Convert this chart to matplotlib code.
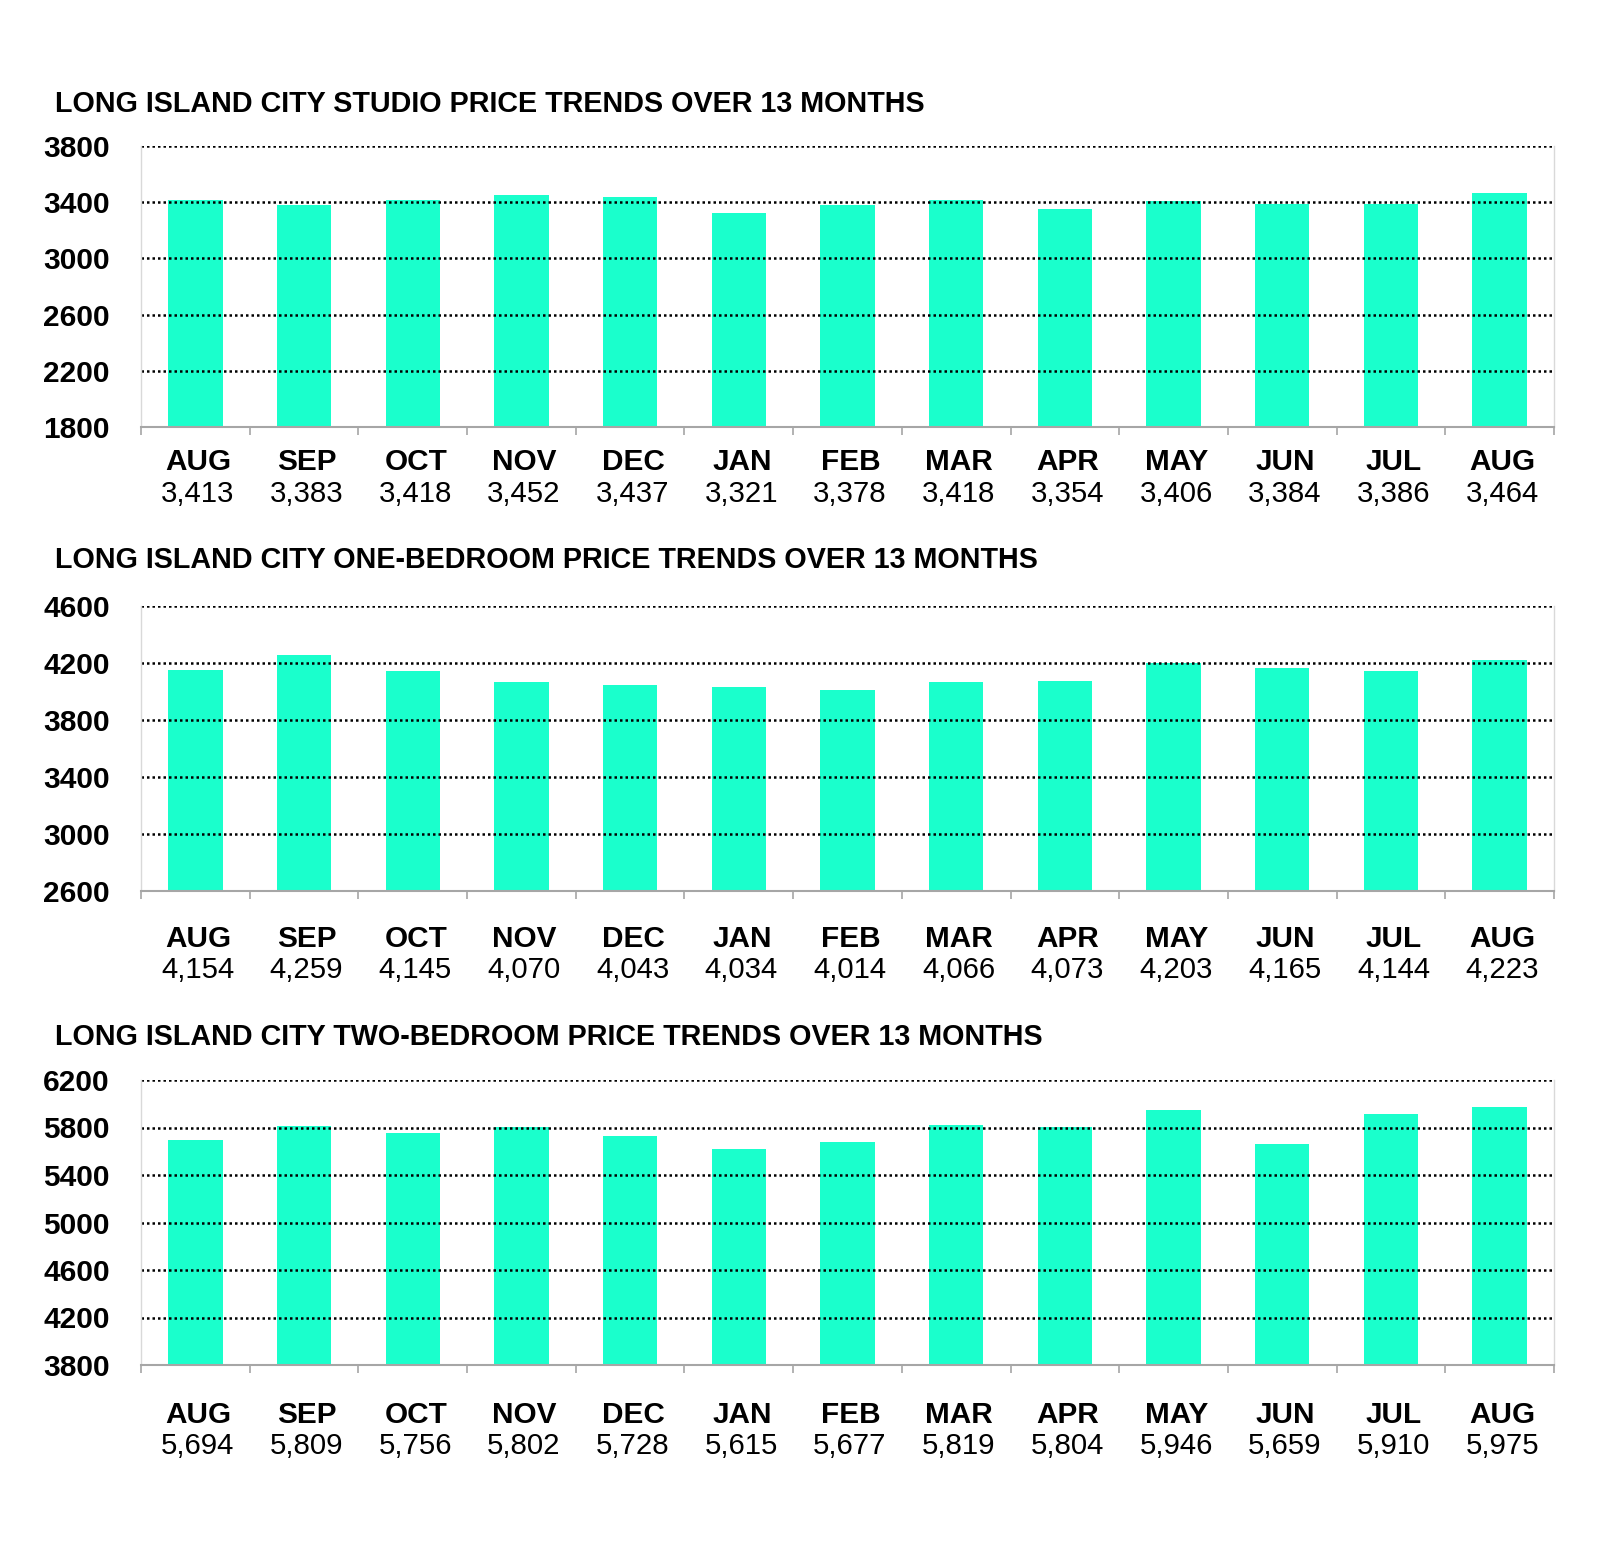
import matplotlib
matplotlib.use("Agg")
import matplotlib.pyplot as plt

plt.rcParams['font.family'] = ['Liberation Sans', 'DejaVu Sans']

months = ["AUG", "SEP", "OCT", "NOV", "DEC", "JAN", "FEB", "MAR", "APR", "MAY", "JUN", "JUL", "AUG"]

studio = [3413, 3383, 3418, 3452, 3437, 3321, 3378, 3418, 3354, 3406, 3384, 3386, 3464]
one_bed = [4154, 4259, 4145, 4070, 4043, 4034, 4014, 4066, 4073, 4203, 4165, 4144, 4223]
two_bed = [5694, 5809, 5756, 5802, 5728, 5615, 5677, 5819, 5804, 5946, 5659, 5910, 5975]

titles = [
    "LONG ISLAND CITY STUDIO PRICE TRENDS OVER 13 MONTHS",
    "LONG ISLAND CITY ONE-BEDROOM PRICE TRENDS OVER 13 MONTHS",
    "LONG ISLAND CITY TWO-BEDROOM PRICE TRENDS OVER 13 MONTHS",
]
yticks_list = [
    [1800, 2200, 2600, 3000, 3400, 3800],
    [2600, 3000, 3400, 3800, 4200, 4600],
    [3800, 4200, 4600, 5000, 5400, 5800, 6200],
]
series = [studio, one_bed, two_bed]

W, H = 1600, 1551
fig = plt.figure(figsize=(W / 100, H / 100), dpi=100)

# (top_px, bottom_px, title_px, month_off_px, value_off_px)
layout = [
    (146, 427, 104, 35, 67),
    (606, 891, 560, 48, 79),
    (1080, 1365, 1037, 50, 81),
]
left_px, right_px = 141, 1554
bar_color = "#1affcc"

for k in range(3):
    top_px, bot_px, title_px, moff, voff = layout[k]
    ax = fig.add_axes([left_px / W, 1 - bot_px / H, (right_px - left_px) / W, (bot_px - top_px) / H])
    vals = series[k]
    yt = yticks_list[k]
    x = list(range(len(vals)))
    ax.bar(x, vals, width=0.5, color=bar_color, zorder=1)
    ax.set_xlim(-0.5, len(vals) - 0.5)
    ax.set_ylim(yt[0], yt[-1])
    ax.set_yticks(yt)
    ax.set_yticklabels([str(v) for v in yt], fontsize=21.5, fontweight='bold')
    ax.tick_params(axis='y', length=0, pad=22.5)
    for v in yt[1:]:
        ax.axhline(v, color='black', linestyle=(0, (1, 1.2)), linewidth=1.8, zorder=2)
    # category boundary ticks
    ax.set_xticks([i - 0.5 for i in range(len(vals) + 1)])
    ax.set_xticklabels([])
    ax.tick_params(axis='x', length=6, width=1.2, color='#a6a6a6', direction='out')
    ax.spines['top'].set_visible(False)
    ax.spines['left'].set_color('#d9d9d9')
    ax.spines['right'].set_color('#d9d9d9')
    ax.spines['left'].set_linewidth(1.0)
    ax.spines['right'].set_linewidth(1.0)
    ax.spines['bottom'].set_color('#a6a6a6')
    ax.spines['bottom'].set_linewidth(1.5)
    ax.set_axisbelow(False)
    for i, (m, v) in enumerate(zip(months, vals)):
        ax.annotate(m, xy=(i, 0), xycoords=('data', 'axes fraction'),
                    xytext=(2.2, -moff * 0.72), textcoords='offset points',
                    ha='center', va='center', fontsize=21.4, fontweight='bold')
        ax.annotate(f"{v:,}", xy=(i, 0), xycoords=('data', 'axes fraction'),
                    xytext=(1.8, -voff * 0.72), textcoords='offset points',
                    ha='center', va='center', fontsize=21.2)
    fig.text(55 / W, 1 - title_px / H, titles[k], ha='left', va='center',
             fontsize=20.7, fontweight='bold')

fig.savefig("out.png", dpi=100, facecolor='white')
